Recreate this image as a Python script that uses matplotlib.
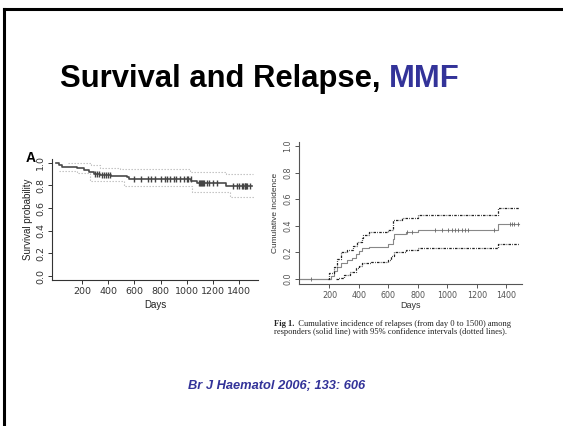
import numpy as np
import matplotlib
matplotlib.use("Agg")
import matplotlib.pyplot as plt
from matplotlib.lines import Line2D

# ---------------- data ----------------
# Panel A: overall survival (Kaplan-Meier step function)
surv_times = [0, 25, 45, 160, 215, 250, 290, 340, 420, 540, 560, 1035, 1075, 1300]
surv_vals = [1.0, 0.98, 0.965, 0.95, 0.94, 0.92, 0.90, 0.89, 0.88, 0.87, 0.853, 0.84, 0.818, 0.797]
surv_end = 1500
surv_upper_times = [90, 265, 340, 490, 1024, 1300]
surv_upper_vals = [0.995, 0.98, 0.955, 0.941, 0.92, 0.897]
surv_upper_end = 1507
surv_lower_times = [22, 162, 263, 517, 1037, 1330]
surv_lower_vals = [0.93, 0.91, 0.84, 0.794, 0.744, 0.70]
surv_lower_end = 1520
surv_censor = [300, 315, 330, 350, 365, 380, 395, 410, 600, 650, 700, 730, 760, 800, 830,
               850, 870, 900, 920, 950, 980, 1000, 1010, 1030, 1090, 1100, 1110, 1115,
               1120, 1130, 1150, 1170, 1200, 1230, 1350, 1380, 1400, 1420, 1430, 1440,
               1445, 1450, 1460, 1480]

# Panel B: cumulative incidence of relapse
ci_times = [0, 210, 230, 250, 280, 320, 350, 380, 400, 420, 470, 600, 630, 640, 720, 800, 1345]
ci_vals = [0.0, 0.02, 0.06, 0.09, 0.12, 0.14, 0.16, 0.19, 0.21, 0.23, 0.24, 0.26, 0.30, 0.34,
           0.35, 0.37, 0.41]
ci_upper_times = [190, 200, 230, 250, 280, 320, 360, 390, 420, 430, 470, 600, 630, 690, 800, 1345]
ci_upper_vals = [0.0, 0.045, 0.09, 0.15, 0.20, 0.22, 0.25, 0.28, 0.31, 0.33, 0.35, 0.37, 0.44,
                 0.46, 0.48, 0.53]
ci_lower_times = [245, 260, 300, 340, 380, 400, 420, 480, 600, 620, 640, 720, 800, 1345]
ci_lower_vals = [0.0, 0.01, 0.03, 0.05, 0.08, 0.10, 0.12, 0.13, 0.14, 0.17, 0.20, 0.22, 0.23, 0.26]
ci_end = 1490
ci_censor = [728, 763, 918, 963, 1006, 1030, 1050, 1075, 1098, 1120, 1140, 1316,
             1423, 1440, 1455, 1477]
ci_zero_censor = [72]

xticks = [200, 400, 600, 800, 1000, 1200, 1400]
yticks = [0.0, 0.2, 0.4, 0.6, 0.8, 1.0]
ytick_labels = ["0.0", "0.2", "0.4", "0.6", "0.8", "1.0"]

title_main = "Survival and Relapse, "
title_accent = "MMF"
citation = "Br J Haematol 2006; 133: 606"
caption_bold = "Fig 1."
caption_line1 = "  Cumulative incidence of relapses (from day 0 to 1500) among"
caption_line2 = "responders (solid line) with 95% confidence intervals (dotted lines)."

# ---------------- helpers ----------------
def step_xy(t, v, end):
    x = list(t) + [end]
    y = list(v) + [v[-1]]
    return x, y

def step_at(t, v, q):
    idx = np.searchsorted(np.asarray(t), np.asarray(q), side="right") - 1
    return np.asarray(v)[idx]

def r_style(ax, col="#333333", fs=6.5):
    for s in ["top", "right"]:
        ax.spines[s].set_visible(False)
    for s in ["left", "bottom"]:
        ax.spines[s].set_color(col)
        ax.spines[s].set_linewidth(0.8)
    ax.tick_params(direction="out", length=3, width=0.7, colors=col, labelsize=fs, pad=2)
    ax.set_xticks(xticks)
    ax.set_yticks(yticks)
    ax.set_yticklabels(ytick_labels, rotation=90, va="center")
    ax.set_facecolor("none")

# ---------------- figure ----------------
fig = plt.figure(figsize=(5.63, 4.26), dpi=100)
fig.patch.set_facecolor("white")
fig_w = fig.get_size_inches()[0] * fig.dpi
renderer = fig.canvas.get_renderer()

# slide border (left and top)
fig.add_artist(Line2D([4 / 563, 4 / 563], [0, 1 - 9 / 426], transform=fig.transFigure,
                      color="black", lw=2.2))
fig.add_artist(Line2D([4 / 563, 1], [1 - 9 / 426, 1 - 9 / 426], transform=fig.transFigure,
                      color="black", lw=2.2))

# title (two colours, centred as a whole)
title_kw = dict(fontsize=22.3, fontweight="bold", family="Liberation Sans", va="center")
ta = fig.text(0, 1 - 79 / 426, title_main, ha="left", color="black", **title_kw)
tb = fig.text(0, 1 - 79 / 426, title_accent, ha="left", color="#333399", **title_kw)
wa = ta.get_window_extent(renderer).width / fig_w
wb = tb.get_window_extent(renderer).width / fig_w
start = 260 / 563 - (wa + wb) / 2
ta.set_x(start)
tb.set_x(start + wa)

# ---- Panel A ----
axA = fig.add_axes([52 / 563, 1 - 280 / 426, (258 - 52) / 563, (280 - 159.3) / 426])
r_style(axA, col="#333333", fs=6.8)
x, y = step_xy(surv_times, surv_vals, surv_end)
axA.step(x, y, where="post", color="#4a4a4a", lw=1.2)
x, y = step_xy(surv_upper_times, surv_upper_vals, surv_upper_end)
axA.step(x, y, where="post", color="#bbbbbb", lw=0.8, ls=(0, (1.2, 1.5)))
x, y = step_xy(surv_lower_times, surv_lower_vals, surv_lower_end)
axA.step(x, y, where="post", color="#bbbbbb", lw=0.8, ls=(0, (1.2, 1.5)))
axA.plot(surv_censor, step_at(surv_times, surv_vals, surv_censor), ls="none", marker="|",
         ms=5, mew=1.0, color="#444444")
axA.set_xlim(-29, 1543)
axA.set_ylim(-0.035, 1.03)
axA.set_xlabel("Days", fontsize=7, color="#222222", labelpad=3, family="Liberation Sans")
axA.set_ylabel("Survival probability", fontsize=7, color="#222222", labelpad=2,
               family="Liberation Sans")
fig.text(26 / 563, 1 - 158 / 426, "A", fontsize=10, fontweight="bold", ha="left",
         va="center", family="Liberation Sans")

# ---- Panel B ----
axB = fig.add_axes([299.3 / 563, 1 - 284 / 426, (521.7 - 299.3) / 563, (284 - 142) / 426])
r_style(axB, col="#555555", fs=5.8)
axB.plot([0, 210], [0, 0], color="#888888", lw=0.8)
x, y = step_xy(ci_times, ci_vals, ci_end)
axB.step(x, y, where="post", color="#888888", lw=0.8)
x, y = step_xy(ci_upper_times, ci_upper_vals, ci_end)
axB.step(x, y, where="post", color="#222222", lw=0.9, ls=(0, (2, 1, 0.6, 1)))
x, y = step_xy(ci_lower_times, ci_lower_vals, ci_end)
axB.step(x, y, where="post", color="#222222", lw=0.9, ls=(0, (2, 1, 0.6, 1)))
axB.plot(ci_censor, step_at(ci_times, ci_vals, ci_censor), ls="none", marker="|", ms=3,
         mew=0.6, color="#666666")
axB.plot(ci_zero_censor, [0] * len(ci_zero_censor), ls="none", marker="|", ms=3, mew=0.6,
         color="#666666")
axB.set_xlim(-5, 1505)
axB.set_ylim(-0.038, 1.03)
axB.set_xlabel("Days", fontsize=6.5, color="#333333", labelpad=1, family="Liberation Sans")
axB.set_ylabel("Cumulative incidence", fontsize=6, color="#333333", labelpad=3,
               family="Liberation Sans")

# caption
cap_kw = dict(fontsize=6.1, family="Liberation Serif", ha="left", va="center", color="#222222")
cb = fig.text(274 / 563, 1 - 324 / 426, caption_bold, fontweight="bold", **cap_kw)
wcb = cb.get_window_extent(renderer).width / fig_w
fig.text(274 / 563 + wcb, 1 - 324 / 426, caption_line1, **cap_kw)
fig.text(274 / 563, 1 - 332.5 / 426, caption_line2, **cap_kw)

# citation
fig.text(277 / 563, 1 - 386 / 426, citation, fontsize=9.3, fontweight="bold", style="italic",
         family="Liberation Sans", ha="center", va="center", color="#333399")

fig.savefig("out.png", dpi=100, facecolor="white")
